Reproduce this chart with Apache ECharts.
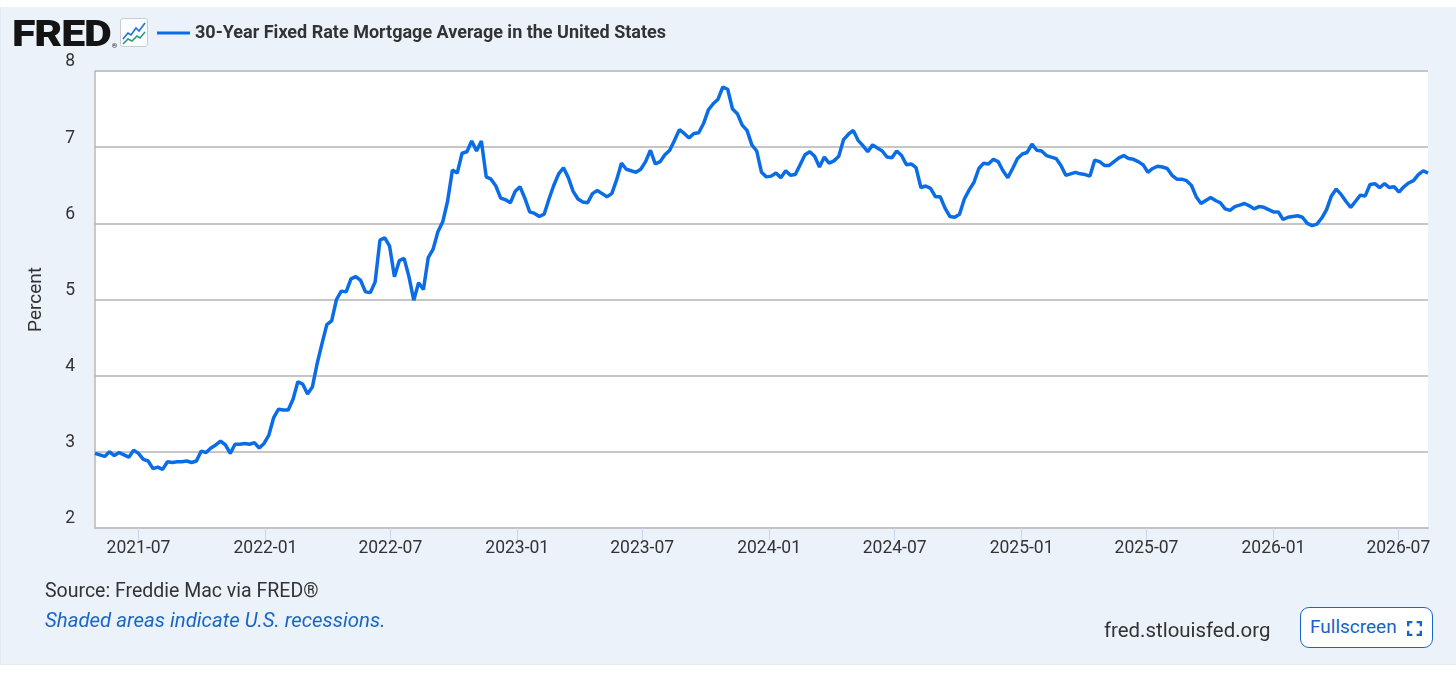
<!DOCTYPE html>
<html>
<head>
<meta charset="utf-8">
<title>30-Year Fixed Rate Mortgage Average in the United States</title>
<script src="https://cdn.jsdelivr.net/npm/echarts@6/dist/echarts.min.js"></script>
<style>
  html, body { margin: 0; padding: 0; background: #fff; }
  body { width: 1456px; height: 675px; position: relative; overflow: hidden; font-family: Roboto, "Noto Sans", sans-serif; }
  #panel { position: absolute; left: 0; top: 7px; width: 1455px; height: 657px; background: #ebf2fa; border: 1px solid #e1e9f3; border-top: 0; }
  #chart { position: absolute; left: 0; top: 0; width: 1456px; height: 675px; }
  .logo { position: absolute; left: 12px; top: 12px; font-weight: 900; font-size: 37px; color: #141414; letter-spacing: -1px;
          transform: scaleX(1.16); transform-origin: left top; }
  .logo sup { font-size: 6px; font-weight: 400; letter-spacing: 0; vertical-align: -2px; margin-left: 1px; }
  .icon { position: absolute; left: 120px; top: 18px; }
  .source { position: absolute; left: 45px; top: 579px; font-size: 19.5px; color: #333; }
  .recess { position: absolute; left: 45px; top: 608px; font-size: 20.4px; color: #1a66c8; font-style: italic; }
  .site { position: absolute; left: 1104px; top: 618px; font-size: 20.4px; color: #333; }
  .full { position: absolute; left: 1300px; top: 607px; width: 133px; height: 41px; box-sizing: border-box;
          border: 1.5px solid #1a66c8; border-radius: 9px; background: #fff; color: #1a62c4; font-size: 19px;
          line-height: 38px; padding-left: 9px; }
  .full svg { position: absolute; left: 106px; top: 13px; }
</style>
</head>
<body>
<div id="panel"></div>
<div id="chart"></div>
<div class="logo">FRED<sup>®</sup></div>
<svg class="icon" width="28" height="29" viewBox="0 0 28 29">
  <rect x="0.5" y="0.5" width="27" height="28" rx="2.5" fill="#fbfcfe" stroke="#c9ccd1"/>
  <polyline points="3,21 8,15 11,17 16,10 19,13 25,5" fill="none" stroke="#1f6fe0" stroke-width="1.6"/>
  <polyline points="3,26 8,21 12,23 17,18 20,20 25,14" fill="none" stroke="#2a9a7c" stroke-width="1.6"/>
</svg>
<div class="source">Source: Freddie Mac via FRED®</div>
<div class="recess">Shaded areas indicate U.S. recessions.</div>
<div class="site">fred.stlouisfed.org</div>
<div class="full">Fullscreen<svg width="15" height="15" viewBox="0 0 14 14" fill="none" stroke="#1a62c4" stroke-width="2.4">
  <polyline points="1,5 1,1 5,1"/><polyline points="9,1 13,1 13,5"/><polyline points="13,9 13,13 9,13"/><polyline points="5,13 1,13 1,9"/></svg></div>
<script>
// weekly values, percent (Thursdays, first week 2021-04-29)
var startDate = [2021, 4, 29];
var rates2021 = [2.98, 2.96, 2.94, 3.00, 2.95, 2.99, 2.96, 2.93, 3.02, 2.98, 2.90, 2.88, 2.78, 2.80, 2.77, 2.87,
    2.86, 2.87, 2.87, 2.88, 2.86, 2.88, 3.01, 2.99, 3.05, 3.09, 3.14, 3.09, 2.98, 3.10, 3.10, 3.11, 3.10, 3.12, 3.05, 3.11];
var rates2022 = [3.22, 3.45, 3.56, 3.55, 3.55, 3.69, 3.92, 3.89, 3.76, 3.85, 4.16, 4.42, 4.67, 4.72, 5.00, 5.11,
    5.10, 5.27, 5.30, 5.25, 5.10, 5.09, 5.23, 5.78, 5.81, 5.70, 5.30, 5.51, 5.54, 5.30, 4.99, 5.22, 5.13, 5.55,
    5.66, 5.89, 6.02, 6.29, 6.70, 6.66, 6.92, 6.94, 7.08, 6.95, 7.08, 6.61, 6.58, 6.49, 6.33, 6.31, 6.27, 6.42];
var rates2023 = [6.48, 6.33, 6.15, 6.13, 6.09, 6.12, 6.32, 6.50, 6.65, 6.73, 6.60, 6.42, 6.32, 6.28, 6.27, 6.39,
    6.43, 6.39, 6.35, 6.39, 6.57, 6.79, 6.71, 6.69, 6.67, 6.71, 6.81, 6.96, 6.78, 6.81, 6.90, 6.96, 7.09, 7.23,
    7.18, 7.12, 7.18, 7.19, 7.31, 7.49, 7.57, 7.63, 7.79, 7.76, 7.50, 7.44, 7.29, 7.22, 7.03, 6.95, 6.67, 6.61];
var rates2024 = [6.62, 6.66, 6.60, 6.69, 6.63, 6.64, 6.77, 6.90, 6.94, 6.88, 6.74, 6.87, 6.79, 6.82, 6.88, 7.10,
    7.17, 7.22, 7.09, 7.02, 6.94, 7.03, 6.99, 6.95, 6.87, 6.86, 6.95, 6.89, 6.77, 6.78, 6.73, 6.47, 6.49, 6.46,
    6.35, 6.35, 6.20, 6.09, 6.08, 6.12, 6.32, 6.44, 6.54, 6.72, 6.79, 6.78, 6.84, 6.81, 6.69, 6.60, 6.72, 6.85];
var rates2025 = [6.91, 6.93, 7.04, 6.96, 6.95, 6.89, 6.87, 6.85, 6.76, 6.63, 6.65, 6.67, 6.65, 6.64, 6.62, 6.83,
    6.81, 6.76, 6.76, 6.81, 6.86, 6.89, 6.85, 6.84, 6.81, 6.77, 6.67, 6.72, 6.75, 6.74, 6.72, 6.63, 6.58, 6.58,
    6.56, 6.50, 6.35, 6.26, 6.30, 6.34, 6.30, 6.27, 6.19, 6.17, 6.22, 6.24, 6.26, 6.23, 6.19, 6.22, 6.21, 6.18];
var rates2026 = [6.15, 6.15, 6.05, 6.08, 6.09, 6.10, 6.08, 6.00, 5.97, 5.99, 6.07, 6.18, 6.36, 6.45, 6.38, 6.29,
    6.21, 6.29, 6.37, 6.36, 6.51, 6.52, 6.47, 6.52, 6.47, 6.48, 6.41, 6.48, 6.53, 6.56, 6.64, 6.69, 6.66];
var xTickLabels = ['2021-07', '2022-01', '2022-07', '2023-01', '2023-07', '2024-01',
    '2024-07', '2025-01', '2025-07', '2026-01', '2026-07'];
var seriesName = '30-Year Fixed Rate Mortgage Average in the United States';

var DAY = 86400000;
var t0 = Date.UTC(startDate[0], startDate[1] - 1, startDate[2]);
var allRates = rates2021.concat(rates2022, rates2023, rates2024, rates2025, rates2026);
var data = allRates.map(function (v, i) {
    return [t0 + i * 7 * DAY, v];
});
var tickValues = xTickLabels.map(function (s) {
    var p = s.split('-');
    return Date.UTC(+p[0], +p[1] - 1, 1);
});
function pad(n) { return n < 10 ? '0' + n : '' + n; }

var chart = echarts.init(document.getElementById('chart'), null, { renderer: 'canvas' });
chart.setOption({
    animation: false,
    textStyle: { fontFamily: 'Roboto' },
    legend: {
        left: 157,
        top: 23,
        padding: 0,
        icon: 'rect',
        itemWidth: 33,
        itemHeight: 3,
        itemGap: 6,
        textStyle: { fontSize: 18, fontWeight: 'bold', color: '#333', fontFamily: 'Roboto', lineHeight: 20 },
        data: [seriesName]
    },
    grid: {
        left: 95,
        right: 28,
        top: 71,
        bottom: 147,
        show: true,
        backgroundColor: '#fff',
        borderWidth: 0
    },
    xAxis: {
        // dates as UTC timestamps on a value scale, ticks at Jan / Jul
        type: 'value',
        min: data[0][0],
        max: data[data.length - 1][0],
        axisLine: { show: true, lineStyle: { color: '#c2c2c2', width: 2 } },
        axisTick: {
            show: true,
            length: 12,
            customValues: tickValues,
            lineStyle: { color: '#ccd6eb', width: 1 }
        },
        axisLabel: {
            customValues: tickValues,
            margin: 12,
            fontSize: 17.5,
            color: '#333',
            fontFamily: 'Roboto',
            formatter: function (v) {
                var d = new Date(v);
                return d.getUTCFullYear() + '-' + pad(d.getUTCMonth() + 1);
            }
        },
        splitLine: { show: false }
    },
    yAxis: {
        type: 'value',
        min: 2,
        max: 8,
        interval: 1,
        name: 'Percent',
        nameLocation: 'middle',
        nameRotate: 90,
        nameGap: 49,
        nameTextStyle: { fontSize: 19, color: '#333', fontFamily: 'Roboto' },
        axisLine: { show: true, lineStyle: { color: '#b8b8b8', width: 1.5 } },
        axisTick: { show: false },
        axisLabel: {
            margin: 20,
            fontSize: 17.5,
            color: '#333',
            fontFamily: 'Roboto',
            verticalAlign: 'bottom'
        },
        splitLine: { show: true, lineStyle: { color: '#c6c6c6', width: 2 } }
    },
    series: [{
        name: seriesName,
        type: 'line',
        data: data,
        showSymbol: false,
        symbol: 'none',
        color: '#0b6de6',
        lineStyle: { width: 3.5, color: '#0b6de6' }
    }]
});
</script>
</body>
</html>
